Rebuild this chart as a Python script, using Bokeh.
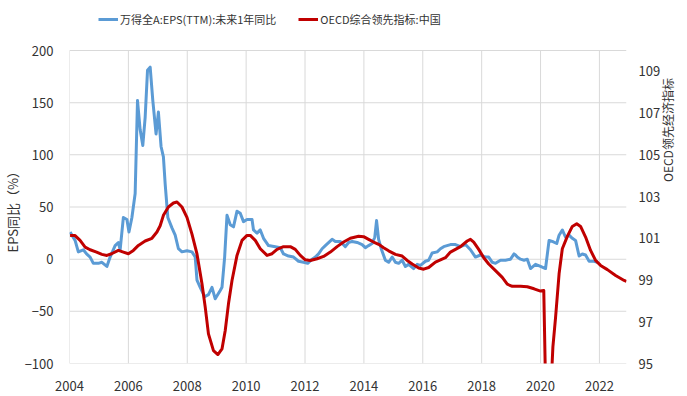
import math
from bokeh.plotting import figure
from bokeh.models import Range1d, LinearAxis, Legend, LegendItem, FixedTicker, Title
from bokeh.embed import file_html
from bokeh.resources import INLINE

# ---- data ----
eps_year = [2004.02, 2004.19, 2004.30, 2004.47, 2004.58, 2004.70, 2004.81, 2004.98, 2005.10, 2005.27,
            2005.38, 2005.55, 2005.66, 2005.72, 2005.83, 2005.95, 2006.02, 2006.12, 2006.23, 2006.31,
            2006.40, 2006.49, 2006.57, 2006.65, 2006.74, 2006.83, 2006.94, 2007.02, 2007.11, 2007.19,
            2007.25, 2007.34, 2007.48, 2007.59, 2007.70, 2007.82, 2007.99, 2008.16, 2008.27, 2008.33,
            2008.44, 2008.59, 2008.72, 2008.84, 2008.95, 2009.12, 2009.18, 2009.27, 2009.35, 2009.46,
            2009.57, 2009.69, 2009.80, 2009.91, 2010.03, 2010.20, 2010.25, 2010.37, 2010.48, 2010.59,
            2010.76, 2010.99, 2011.16, 2011.27, 2011.44, 2011.61, 2011.78, 2011.95, 2012.09, 2012.24,
            2012.35, 2012.46, 2012.58, 2012.69, 2012.92, 2013.03, 2013.20, 2013.37, 2013.48, 2013.60,
            2013.77, 2013.94, 2014.05, 2014.16, 2014.28, 2014.37, 2014.43, 2014.50, 2014.60, 2014.73,
            2014.84, 2014.96, 2015.07, 2015.18, 2015.30, 2015.41, 2015.52, 2015.69, 2015.81, 2015.92,
            2016.09, 2016.20, 2016.32, 2016.49, 2016.60, 2016.71, 2016.94, 2017.11, 2017.28, 2017.45,
            2017.62, 2017.79, 2017.96, 2018.13, 2018.24, 2018.36, 2018.47, 2018.64, 2018.81, 2018.98,
            2019.10, 2019.15, 2019.21, 2019.32, 2019.44, 2019.55, 2019.66, 2019.83, 2020.00, 2020.17,
            2020.29, 2020.40, 2020.55, 2020.63, 2020.74, 2020.85, 2020.97, 2021.08, 2021.19, 2021.31,
            2021.42, 2021.53, 2021.65, 2021.82, 2021.93]
eps_val = [26, 18, 7, 9, 5, 2, -4, -4, -3, -7,
           2, 13, 16, 9, 40, 38, 26, 40, 63, 152,
           124, 109, 136, 181, 184, 152, 120, 141, 108, 98,
           72, 40, 30, 23, 10, 7, 8, 7, 2, -20,
           -27, -36, -34, -27, -38, -30, -27, 2, 42, 33,
           31, 46, 44, 36, 38, 38, 28, 25, 28, 20,
           13, 12, 11, 5, 3, 2, -2, -3, -4, 0,
           2, 5, 10, 13, 19, 17, 17, 12, 16, 17,
           16, 14, 11, 13, 15, 21, 37, 19, 9, -1,
           -3, 2, -3, -4, -1, -7, -5, -9, -5, -6,
           -2, -1, 6, 7, 10, 12, 14, 14, 12, 14,
           9, 2, 4, 2, 2, -3, -4, -1, -1, 0,
           5, 4, 2, 0, -1, 0, -9, -5, -7, -9,
           18, 17, 15, 23, 28, 21, 23, 20, 18, 3,
           5, 4, -2, -2, -3]

cli_year = [2004.02, 2004.19, 2004.36, 2004.53, 2004.70, 2004.92, 2005.10, 2005.27, 2005.43, 2005.66,
            2005.83, 2006.00, 2006.17, 2006.34, 2006.57, 2006.80, 2006.97, 2007.08, 2007.19, 2007.36,
            2007.53, 2007.65, 2007.82, 2007.99, 2008.16, 2008.33, 2008.50, 2008.61, 2008.72, 2008.89,
            2009.04, 2009.18, 2009.29, 2009.40, 2009.52, 2009.69, 2009.86, 2010.03, 2010.14, 2010.31,
            2010.48, 2010.71, 2010.88, 2011.05, 2011.27, 2011.50, 2011.67, 2011.84, 2012.01, 2012.18,
            2012.41, 2012.63, 2012.86, 2013.09, 2013.31, 2013.54, 2013.82, 2013.99, 2014.16, 2014.33,
            2014.50, 2014.67, 2014.84, 2015.07, 2015.30, 2015.47, 2015.64, 2015.86, 2016.03, 2016.20,
            2016.43, 2016.77, 2016.94, 2017.28, 2017.51, 2017.62, 2017.73, 2017.90, 2018.07, 2018.24,
            2018.47, 2018.70, 2018.87, 2019.04, 2019.32, 2019.55, 2019.78, 2020.00, 2020.11, 2020.19,
            2020.27, 2020.36, 2020.42, 2020.51, 2020.63, 2020.74, 2020.91, 2021.08, 2021.23, 2021.36,
            2021.53, 2021.70, 2021.87, 2022.04, 2022.27, 2022.55, 2022.84, 2022.92]
cli_val = [101.13, 101.13, 100.90, 100.58, 100.45, 100.34, 100.23, 100.18, 100.26, 100.42,
           100.34, 100.26, 100.42, 100.66, 100.87, 101.00, 101.30, 101.60, 102.10, 102.50,
           102.69, 102.74, 102.50, 102.00, 101.20, 100.25, 98.82, 97.70, 96.42, 95.62,
           95.43, 95.70, 96.58, 97.86, 98.98, 100.18, 100.90, 101.14, 101.14, 100.90,
           100.50, 100.18, 100.26, 100.47, 100.60, 100.60, 100.47, 100.18, 99.97, 99.94,
           100.02, 100.13, 100.34, 100.60, 100.82, 101.00, 101.10, 101.08, 100.95, 100.82,
           100.71, 100.55, 100.40, 100.23, 100.15, 99.94, 99.77, 99.58, 99.52, 99.60,
           99.86, 100.07, 100.34, 100.60, 100.87, 100.95, 100.82, 100.47, 100.07, 99.77,
           99.45, 99.13, 98.80, 98.70, 98.70, 98.68, 98.58, 98.47, 98.50, 92.50,
           92.30, 94.00, 95.80, 97.20, 99.30, 100.50, 101.09, 101.57, 101.70, 101.57,
           101.06, 100.42, 99.94, 99.70, 99.50, 99.22, 98.98, 98.93]

x_ticks = [2004, 2006, 2008, 2010, 2012, 2014, 2016, 2018, 2020, 2022]
left_ticks = [-100, -50, 0, 50, 100, 150, 200]
right_ticks = [95, 97, 99, 101, 103, 105, 107, 109]
left_lo, left_hi = -100, 200
right_lo, right_hi = 95, 110
x_lo, x_hi = 2004, 2022.92

eps_name = "万得全A:EPS(TTM):未来1年同比"
cli_name = "OECD综合领先指标:中国"
left_title = "EPS同比（%）"
right_title = "OECD领先经济指标"

FONT = "Noto Sans CJK SC"
GRID = "#d9d9d9"
TXT = "#333333"

# plot area 558 x 313 px, plus 50 px headroom above it for the legend
HEAD = 50.0
left_top = left_hi + HEAD * (left_hi - left_lo) / 313.0
right_top = right_hi + HEAD * (right_hi - right_lo) / 313.0

p = figure(width=687, height=396, output_backend="svg", toolbar_location=None,
           x_range=Range1d(x_lo, x_hi), y_range=Range1d(left_lo, left_top),
           min_border_left=69, min_border_right=60, min_border_top=0, min_border_bottom=33)
p.outline_line_color = None
p.background_fill_color = "white"
p.border_fill_color = "white"

p.extra_y_ranges = {"right": Range1d(right_lo, right_top)}

# grid lines drawn as 1-px filled strips (vertical ones limited to the plotting band)
p.xgrid.visible = False
p.ygrid.visible = False
half_px_x = 0.5 * (x_hi - x_lo) / 558.0
half_px_y = 0.5 * (left_hi - left_lo) / 313.0
p.quad(left=[t - half_px_x for t in x_ticks], right=[t + half_px_x for t in x_ticks],
       bottom=[left_lo] * len(x_ticks), top=[left_hi] * len(x_ticks),
       fill_color=GRID, line_color=None)
p.quad(left=[x_lo] * len(left_ticks), right=[x_hi] * len(left_ticks),
       bottom=[t - half_px_y for t in left_ticks], top=[t + half_px_y for t in left_ticks],
       fill_color=GRID, line_color=None)

r_eps = p.line(eps_year, eps_val, line_color="#5B9BD5", line_width=3, line_join="round")
r_cli = p.line(cli_year, cli_val, line_color="#C00000", line_width=3, line_join="round",
               y_range_name="right")

# axes styling
p.xaxis.ticker = FixedTicker(ticks=x_ticks)
p.yaxis.ticker = FixedTicker(ticks=left_ticks)

raxis = LinearAxis(y_range_name="right", ticker=FixedTicker(ticks=right_ticks),
                   axis_label=right_title)
p.add_layout(raxis, "right")

for ax in [p.xaxis[0], p.yaxis[0], raxis]:
    ax.axis_line_color = None
    ax.major_tick_line_color = None
    ax.minor_tick_line_color = None
    ax.major_label_text_font = FONT
    ax.major_label_text_font_size = "13px"
    ax.major_label_text_color = TXT
    ax.axis_label_text_font = FONT
    ax.axis_label_text_font_size = "12px"
    ax.axis_label_text_font_style = "normal"
    ax.axis_label_text_color = TXT

p.xaxis.major_label_standoff = 11
p.yaxis.major_label_standoff = 10
raxis.major_label_standoff = 6
raxis.axis_label_standoff = 4
try:
    raxis.axis_label_orientation = math.pi / 2
except Exception:
    pass

# left title, placed in the middle of the plotting band
p.add_layout(Title(text=left_title, align="left", offset=111, text_font=FONT,
                   text_font_size="13px", text_font_style="normal", text_color=TXT,
                   standoff=0), "left")

legend = Legend(items=[LegendItem(label=eps_name, renderers=[r_eps]),
                       LegendItem(label=cli_name, renderers=[r_cli])],
                orientation="horizontal", location=(29, 336),
                label_text_font=FONT, label_text_font_size="11px", label_text_color=TXT,
                glyph_width=20, glyph_height=14, label_height=14, spacing=22, label_standoff=2,
                border_line_color=None, background_fill_alpha=0, padding=0, margin=0)
p.add_layout(legend, "center")

open("out.html", "w").write(file_html(p, INLINE))
